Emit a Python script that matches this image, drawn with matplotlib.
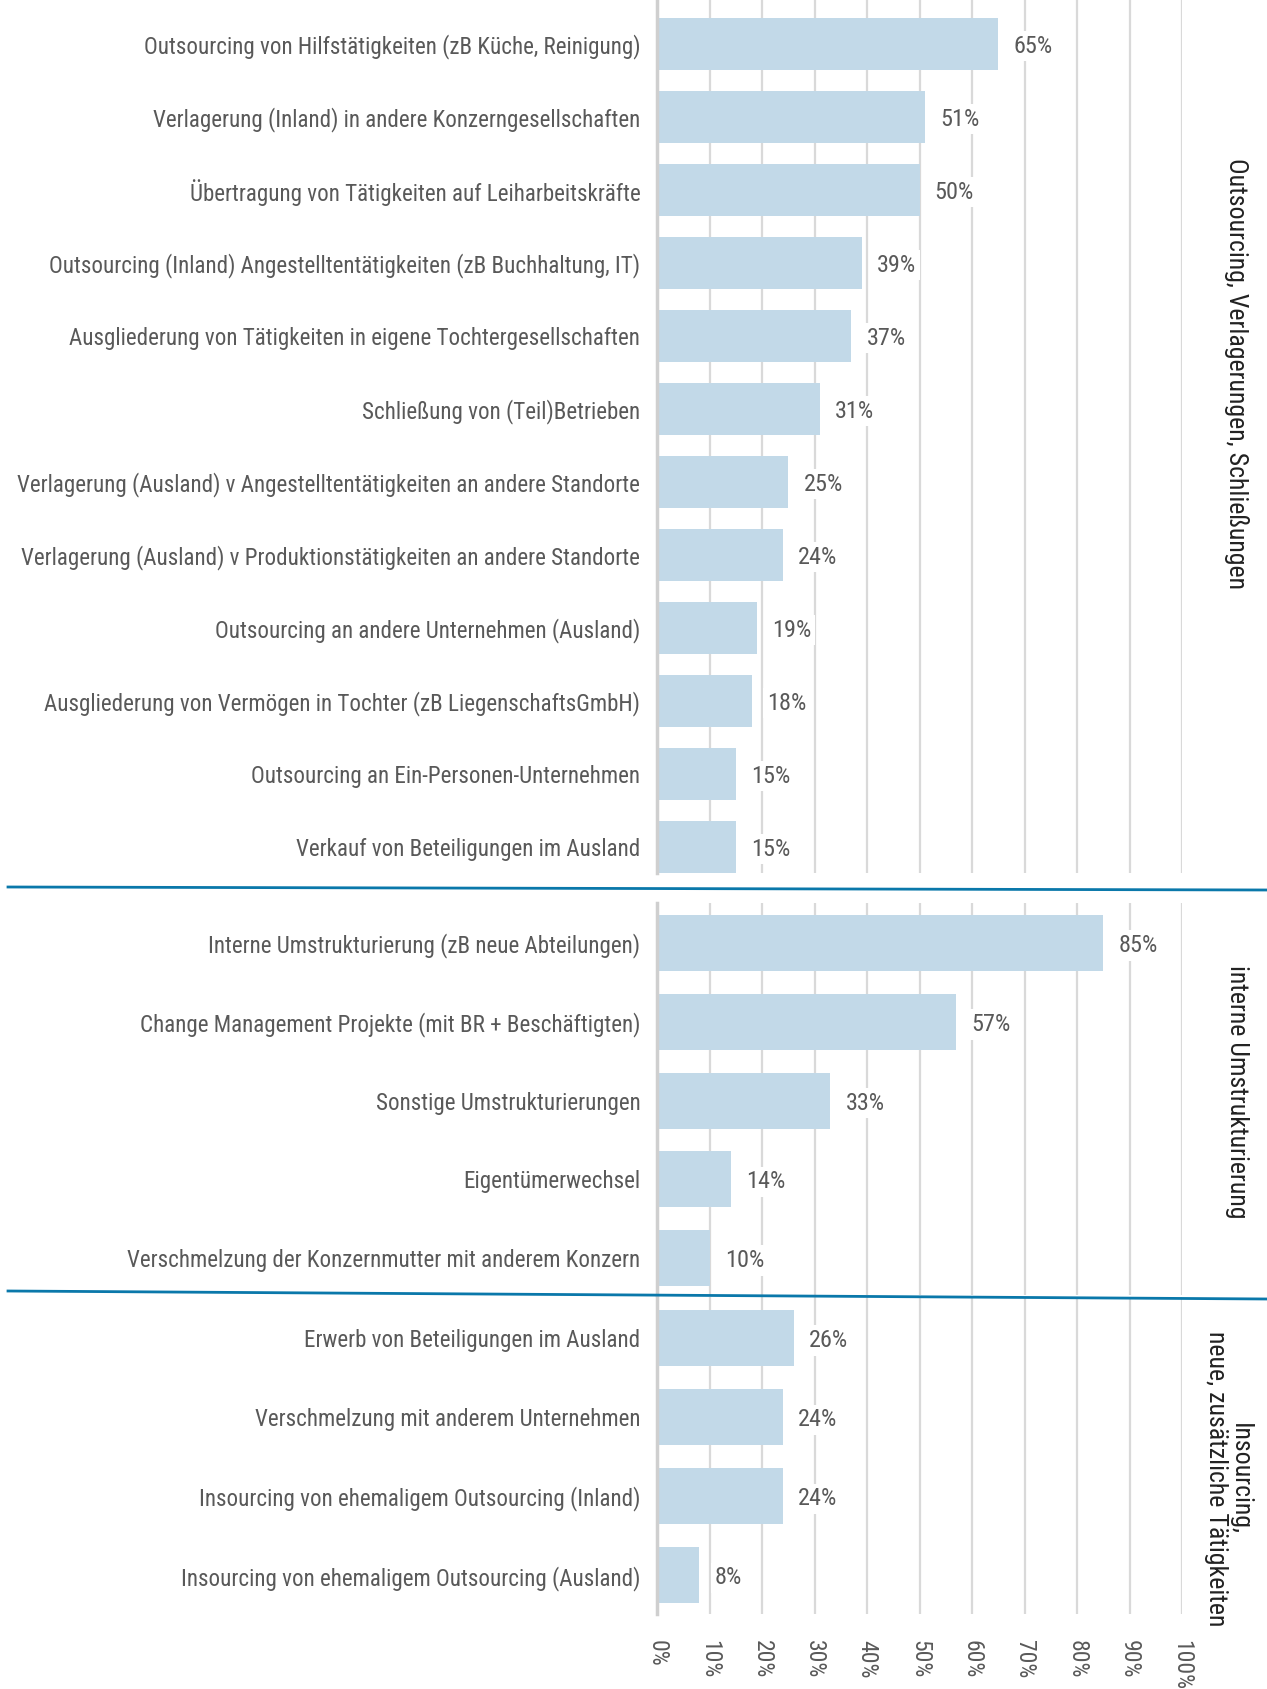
import matplotlib
matplotlib.use("Agg")
import matplotlib.pyplot as plt
from matplotlib.lines import Line2D

# Daten
cats_outsourcing = [
    "Outsourcing von Hilfstätigkeiten (zB Küche, Reinigung)",
    "Verlagerung (Inland) in andere Konzerngesellschaften",
    "Übertragung von Tätigkeiten auf Leiharbeitskräfte",
    "Outsourcing (Inland) Angestelltentätigkeiten (zB Buchhaltung, IT)",
    "Ausgliederung von Tätigkeiten in eigene Tochtergesellschaften",
    "Schließung von (Teil)Betrieben",
    "Verlagerung (Ausland) v Angestelltentätigkeiten an andere Standorte",
    "Verlagerung (Ausland) v Produktionstätigkeiten an andere Standorte",
    "Outsourcing an andere Unternehmen (Ausland)",
    "Ausgliederung von Vermögen in Tochter (zB LiegenschaftsGmbH)",
    "Outsourcing an Ein-Personen-Unternehmen",
    "Verkauf von Beteiligungen im Ausland",
]
vals_outsourcing = [65, 51, 50, 39, 37, 31, 25, 24, 19, 18, 15, 15]

cats_intern = [
    "Interne Umstrukturierung (zB neue Abteilungen)",
    "Change Management Projekte (mit BR + Beschäftigten)",
    "Sonstige Umstrukturierungen",
    "Eigentümerwechsel",
    "Verschmelzung der Konzernmutter mit anderem Konzern",
]
vals_intern = [85, 57, 33, 14, 10]

cats_insourcing = [
    "Erwerb von Beteiligungen im Ausland",
    "Verschmelzung mit anderem Unternehmen",
    "Insourcing von ehemaligem Outsourcing (Inland)",
    "Insourcing von ehemaligem Outsourcing (Ausland)",
]
vals_insourcing = [26, 24, 24, 8]

group_labels = [
    "Outsourcing, Verlagerungen, Schließungen",
    "interne Umstrukturierung",
    "Insourcing,\nneue, zusätzliche Tätigkeiten",
]
xticks = list(range(0, 101, 10))

BAR = "#c2d9e8"
GRID = "#d9d9d9"
TXT = "#595959"
SEP = "#0a78aa"
plt.rcParams["font.family"] = ["Roboto Condensed", "Liberation Sans", "DejaVu Sans"]

W, H = 1267, 1689
fig = plt.figure(figsize=(W / 100, H / 100), dpi=100)

x0, x1 = 657 / W, 1182 / W

# (kategorien, werte, y oben px, y unten px, ylim unten, ylim oben)
panels = [
    (cats_outsourcing, vals_outsourcing, 0, 873, 11.36, -0.6),
    (cats_intern, vals_intern, 903, 1295, 4.47, -0.51),
    (cats_insourcing, vals_insourcing, 1297, 1614, 3.49, -0.52),
]

for i, (cats, vals, ytop, ybot, yb, yt) in enumerate(panels):
    ax = fig.add_axes([x0, 1 - ybot / H, x1 - x0, (ybot - ytop) / H])
    pos = list(range(len(cats)))
    ax.barh(pos, vals, height=0.71, color=BAR, zorder=2)
    ax.set_xlim(0, 100)
    ax.set_ylim(yb, yt)
    ax.set_xticks(xticks)
    ax.set_yticks(pos)
    ax.set_yticklabels(cats, fontsize=16.6, color=TXT)
    ax.tick_params(axis="y", length=0, pad=12)
    for s in ["top", "right", "bottom"]:
        ax.spines[s].set_visible(False)
    ax.spines["left"].set_color("#cfcfcf")
    ax.spines["left"].set_linewidth(2.5)
    ax.grid(axis="x", color=GRID, linewidth=1.6, zorder=0)
    ax.set_axisbelow(True)
    for p, v in zip(pos, vals):
        ax.annotate(f"{v}%", (v, p), xytext=(11, 0), textcoords="offset points",
                    va="center_baseline", ha="left", fontsize=17.5, color=TXT, zorder=3,
                    bbox=dict(boxstyle="square,pad=0.15", fc="white", ec="none"))
    if i < 2:
        ax.tick_params(axis="x", length=0, labelbottom=False)
    else:
        ax.set_xticklabels([f"{t}%" for t in xticks], rotation=270,
                           fontsize=17, color=TXT)
        ax.tick_params(axis="x", length=0, pad=19)

# Trennlinien
fig.add_artist(Line2D([8 / W, 1.0], [1 - 887 / H, 1 - 890 / H], color=SEP, lw=2))
fig.add_artist(Line2D([8 / W, 1.0], [1 - 1291 / H, 1 - 1299 / H], color=SEP, lw=2))

# Gruppenbeschriftungen
fig.text(1237 / W, 1 - 373 / H, group_labels[0], rotation=270, ha="center",
         va="center", fontsize=18.6, color="#222222")
fig.text(1237 / W, 1 - 1092 / H, group_labels[1], rotation=270, ha="center",
         va="center", fontsize=18.6, color="#222222")
fig.text(1228 / W, 1 - 1479 / H, group_labels[2], rotation=270, ha="center",
         va="center", fontsize=18.6, color="#222222", multialignment="center",
         linespacing=1.0)

fig.savefig("out.png", dpi=100)
